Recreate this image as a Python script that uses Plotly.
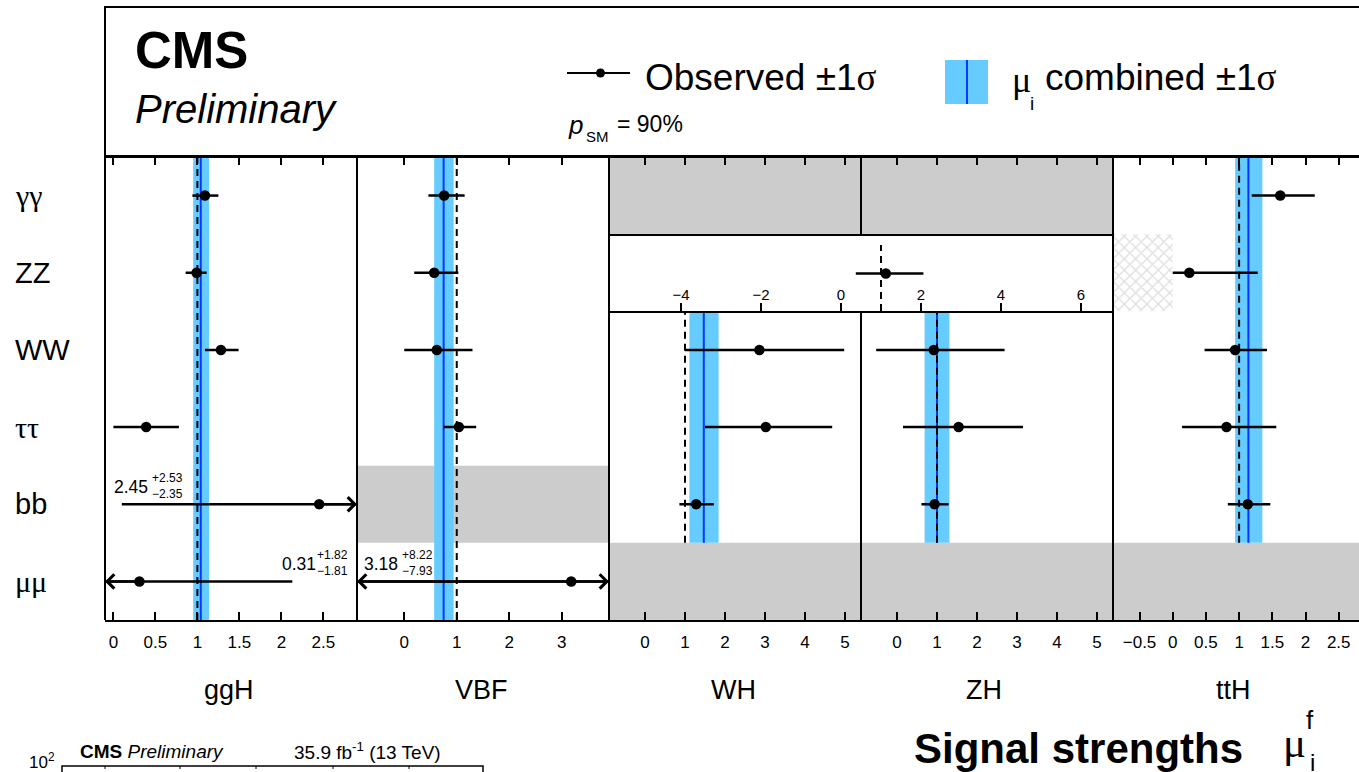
import plotly.graph_objects as go

W, H = 1359, 772


def PX(x):
    return x / W


def PY(y):
    return 1 - y / H


# ---------------- data ----------------
rows = ["γγ", "ZZ", "WW", "ττ", "bb", "μμ"]
row_pos = [5, 4, 3, 2, 1, 0]
modes = ["ggH", "VBF", "WH", "ZH", "ttH"]

# observed signal strengths (None = not measured)
ggH_mu = [1.09, 0.99, 1.28, 0.39, 2.45, 0.31]
ggH_up = [0.16, 0.12, 0.21, 0.39, 2.53, 1.82]
ggH_dn = [0.15, 0.13, 0.19, 0.39, 2.35, 1.81]

VBF_mu = [0.76, 0.57, 0.62, 1.04, None, 3.18]
VBF_up = [0.39, 0.46, 0.68, 0.33, None, 8.22]
VBF_dn = [0.30, 0.38, 0.62, 0.29, None, 7.93]

WH_mu = [None, None, 2.86, 3.02, 1.28, None]
WH_up = [None, None, 2.12, 1.66, 0.44, None]
WH_dn = [None, None, 1.86, 1.52, 0.42, None]

ZH_mu = [None, None, 0.92, 1.54, 0.94, None]
ZH_up = [None, None, 1.77, 1.61, 0.35, None]
ZH_dn = [None, None, 1.44, 1.39, 0.33, None]

ttH_mu = [1.62, 0.25, 0.94, 0.81, 1.13, None]
ttH_up = [0.52, 1.03, 0.48, 0.75, 0.34, None]
ttH_dn = [0.43, 0.25, 0.46, 0.67, 0.30, None]

# VH -> ZZ (shared WH+ZH cell)
VH_ZZ_mu = 1.12
VH_ZZ_up = 0.94
VH_ZZ_dn = 0.75

# ttH -> ZZ physical boundary (hatched below)
ttH_ZZ_bound = 0.0

# combined per-production-mode signal strengths
comb_mu = [1.04, 0.75, 1.47, 1.00, 1.14]
comb_up = [0.10, 0.19, 0.37, 0.31, 0.21]
comb_dn = [0.09, 0.18, 0.36, 0.31, 0.20]

SM = 1.0
p_SM = "90%"

# cells not measured (gray)
gray_cells = {"VBF": ["bb"], "WH": ["γγ", "μμ"], "ZH": ["γγ", "μμ"], "ttH": ["μμ"]}

# axis ticks
tickvals = {
    "ggH": [0, 0.5, 1, 1.5, 2, 2.5],
    "VBF": [0, 1, 2, 3],
    "WH": [0, 1, 2, 3, 4, 5],
    "ZH": [0, 1, 2, 3, 4, 5],
    "ttH": [-0.5, 0, 0.5, 1, 1.5, 2, 2.5],
}
inset_ticks = [-4, -2, 0, 2, 4, 6]

obs = {
    "ggH": (ggH_mu, ggH_up, ggH_dn),
    "VBF": (VBF_mu, VBF_up, VBF_dn),
    "WH": (WH_mu, WH_up, WH_dn),
    "ZH": (ZH_mu, ZH_up, ZH_dn),
    "ttH": (ttH_mu, ttH_up, ttH_dn),
}

# ---------------- layout geometry ----------------
ranges = {"ggH": [-0.1, 2.9], "VBF": [-0.9, 3.9], "WH": [-0.9, 5.4],
          "ZH": [-0.9, 5.4], "ttH": [-0.9, 2.806]}
panel_px = [(105, 357), (357, 609), (609, 861), (861, 1113), (1113, 1359)]
TOP, BOT = 157, 620
inset_px = (609, 1113, 236, 311)
inset_range = [-5.8, 6.8]
band_rows = {"ggH": (-0.5, 5.5), "VBF": (-0.5, 5.5), "WH": (0.5, 3.5),
             "ZH": (0.5, 3.5), "ttH": (0.5, 5.5)}

SANS = "Liberation Sans"
SERIF = "Liberation Serif"
BAND = "#66ccff"
BLUE = "#0038ff"
GRAY = "#cccccc"


def fmt(v):
    s = ("%g" % v)
    return s.replace("-", "\u2212")


fig = go.Figure()
layout = dict(width=W, height=H, margin=dict(l=0, r=0, t=0, b=0),
              paper_bgcolor="white", plot_bgcolor="rgba(0,0,0,0)",
              showlegend=False, font=dict(family=SANS, color="black"))
shapes = []
annotations = []

for i, m in enumerate(modes):
    n = i + 1
    xa = "xaxis" if n == 1 else "xaxis%d" % n
    ya = "yaxis" if n == 1 else "yaxis%d" % n
    xr = "x" if n == 1 else "x%d" % n
    yr = "y" if n == 1 else "y%d" % n
    a, b = panel_px[i]
    layout[xa] = dict(domain=[PX(a), PX(b)], range=ranges[m], anchor=yr,
                      showline=True, linewidth=2, linecolor="black", mirror="ticks",
                      ticks="inside", ticklen=8, tickwidth=2, tickcolor="black",
                      tickvals=tickvals[m], ticktext=[fmt(v) for v in tickvals[m]],
                      ticklabelstandoff=6,
                      tickfont=dict(family=SANS, size=17, color="black"),
                      showgrid=False, zeroline=False, fixedrange=True)
    layout[ya] = dict(domain=[PY(BOT), PY(TOP)], range=[-0.5, 5.5], anchor=xr,
                      showline=False, showticklabels=False, ticks="",
                      showgrid=False, zeroline=False, fixedrange=True)

    # combined band + central line + SM dashed line
    y0, y1 = band_rows[m]
    shapes.append(dict(type="rect", xref=xr, yref=yr, x0=comb_mu[i] - comb_dn[i],
                       x1=comb_mu[i] + comb_up[i], y0=y0, y1=y1, fillcolor=BAND,
                       line=dict(width=0), layer="below"))
    shapes.append(dict(type="line", xref=xr, yref=yr, x0=comb_mu[i], x1=comb_mu[i],
                       y0=y0, y1=y1, line=dict(color=BLUE, width=2), layer="below"))
    shapes.append(dict(type="line", xref=xr, yref=yr, x0=SM, x1=SM, y0=y0, y1=y1,
                       line=dict(color="black", width=2, dash="7px,5px"), layer="below"))
    # gray (not measured) cells
    for r in gray_cells.get(m, []):
        yp = row_pos[rows.index(r)]
        shapes.append(dict(type="rect", xref=xr + " domain", yref=yr, x0=0, x1=1,
                           y0=yp - 0.5, y1=yp + 0.5, fillcolor=GRAY,
                           line=dict(width=0), layer="below"))

    # observed points
    mu, up, dn = obs[m]
    xs, ys, eu, ed = [], [], [], []
    for k in range(len(rows)):
        if mu[k] is None:
            continue
        xs.append(mu[k]); ys.append(row_pos[k]); eu.append(up[k]); ed.append(dn[k])
        lo, hi = ranges[m]
        for edge, over in ((hi, mu[k] + up[k] > hi), (lo, mu[k] - dn[k] < lo)):
            if over:
                annotations.append(dict(x=edge, y=row_pos[k], ax=mu[k], ay=row_pos[k],
                                        xref=xr, yref=yr, axref=xr, ayref=yr, text="",
                                        showarrow=True, arrowhead=4, arrowsize=1.1,
                                        arrowwidth=2.5, arrowcolor="black", standoff=0))
    fig.add_trace(go.Scatter(x=xs, y=ys, xaxis=xr, yaxis=yr, mode="markers",
                             marker=dict(color="black", size=10.5),
                             error_x=dict(type="data", array=eu, arrayminus=ed,
                                          color="black", thickness=2.5, width=0)))

# hatched region for ttH -> ZZ (below physical boundary)
zz = row_pos[rows.index("ZZ")]
fig.add_trace(go.Bar(orientation="h", y=[zz], x=[ttH_ZZ_bound - ranges["ttH"][0]],
                     base=[ranges["ttH"][0]], width=[1], xaxis="x5", yaxis="y5",
                     marker=dict(color="white", line=dict(width=0),
                                 pattern=dict(shape="x", fgcolor="#bdbdbd", bgcolor="white",
                                              size=8, solidity=0.3))))

# inset VH -> ZZ axis
layout["xaxis6"] = dict(domain=[PX(inset_px[0]), PX(inset_px[1])], range=inset_range,
                        anchor="y6", showline=True, linewidth=2, linecolor="black",
                        mirror=True, ticks="inside", ticklen=8, tickwidth=2,
                        tickcolor="black", tickvals=inset_ticks,
                        ticktext=[fmt(v) for v in inset_ticks],
                        ticklabelposition="inside",
                        tickfont=dict(family=SANS, size=15, color="black"),
                        showgrid=False, zeroline=False, fixedrange=True)
layout["yaxis6"] = dict(domain=[PY(inset_px[3]), PY(inset_px[2])], range=[0, 1],
                        anchor="x6", showline=False, showticklabels=False,
                        showgrid=False, zeroline=False, fixedrange=True)
shapes.append(dict(type="line", xref="x6", yref="y6", x0=SM, x1=SM, y0=0, y1=0.88,
                   line=dict(color="black", width=2, dash="7px,5px"), layer="below"))
fig.add_trace(go.Scatter(x=[VH_ZZ_mu], y=[0.5], xaxis="x6", yaxis="y6", mode="markers",
                         marker=dict(color="black", size=10.5),
                         error_x=dict(type="data", array=[VH_ZZ_up], arrayminus=[VH_ZZ_dn],
                                      color="black", thickness=2.5, width=0)))

# panel frame lines
for xv in (105, 357, 609, 1113):
    shapes.append(dict(type="line", xref="paper", yref="paper", x0=PX(xv), x1=PX(xv),
                       y0=PY(TOP), y1=PY(BOT), line=dict(color="black", width=2)))
for (ya_, yb_) in ((TOP, inset_px[2]), (inset_px[3], BOT)):
    shapes.append(dict(type="line", xref="paper", yref="paper", x0=PX(861), x1=PX(861),
                       y0=PY(ya_), y1=PY(yb_), line=dict(color="black", width=2)))

# header box
shapes.append(dict(type="rect", xref="paper", yref="paper", x0=PX(105), x1=PX(1375),
                   y0=PY(157), y1=PY(7), line=dict(color="black", width=2)))

# header legend
shapes.append(dict(type="line", xref="paper", yref="paper", x0=PX(567), x1=PX(630),
                   y0=PY(73), y1=PY(73), line=dict(color="black", width=2)))
shapes.append(dict(type="circle", xref="paper", yref="paper", x0=PX(596), x1=PX(605),
                   y0=PY(77.5), y1=PY(68.5), fillcolor="black", line=dict(width=0)))
shapes.append(dict(type="rect", xref="paper", yref="paper", x0=PX(945), x1=PX(988),
                   y0=PY(104), y1=PY(60), fillcolor=BAND, line=dict(width=0)))
shapes.append(dict(type="line", xref="paper", yref="paper", x0=PX(967), x1=PX(967),
                   y0=PY(104), y1=PY(60), line=dict(color=BLUE, width=2)))


def txt(x, y, text, size, family=SANS, xanchor="left", yanchor="middle", **kw):
    annotations.append(dict(x=PX(x), y=PY(y), xref="paper", yref="paper", text=text,
                            showarrow=False, xanchor=xanchor, yanchor=yanchor,
                            font=dict(family=family, size=size, color="black"), **kw))


txt(133, 50, "<b>CMS</b>", 51)
txt(133, 109, "<i>Preliminary</i>", 40)
sig = '<span style="font-family:Liberation Serif">σ</span>'
txt(643, 77, "Observed ±1" + sig, 37)
txt(1010, 80, '<span style="font-family:Liberation Serif">μ</span>', 36)
txt(1028, 103, "i", 19)
txt(1043, 77, "combined ±1" + sig, 37)
txt(566, 125, "<i>p</i>", 26)
txt(584, 137, "SM", 15)
txt(615, 124, "= " + p_SM, 23)

# row labels
for k, r in enumerate(rows):
    greek = any(c in r for c in "γτμ")
    annotations.append(dict(x=PX(13), y=row_pos[k], xref="paper", yref="y", text=r,
                            showarrow=False, xanchor="left", yanchor="middle",
                            font=dict(family=SERIF if greek else SANS,
                                      size=30 if greek else 29, color="black")))

# production-mode labels
label_cx = [229, 481, 733, 984, 1233]
for i, m in enumerate(modes):
    txt(label_cx[i], 690, m, 27, xanchor="center")

# out-of-range value labels
def val_label(x, y, mu, up, dn, xs):
    txt(x, y, fmt(mu), 17.5)
    txt(xs, y - 1, "+%s<br>%s" % (fmt(up), fmt(-dn)), 12)

val_label(112, 487, ggH_mu[4], ggH_up[4], ggH_dn[4], 150)
val_label(280, 564, ggH_mu[5], ggH_up[5], ggH_dn[5], 315)
val_label(362, 564, VBF_mu[5], VBF_up[5], VBF_dn[5], 400)

# x title
txt(912, 748, "<b>Signal strengths</b>", 42)
txt(1281, 742, '<span style="font-family:Liberation Serif">μ</span>', 43)
txt(1304, 720, "f", 26)
txt(1308, 762, "i", 24)

# partial figure peeking in at bottom-left
txt(27, 761, "10<sup>2</sup>", 17)
txt(78, 751, "<b>CMS</b> <i>Preliminary</i>", 19)
txt(292, 751, "35.9 fb<sup>-1</sup> (13 TeV)", 19)
shapes.append(dict(type="rect", xref="paper", yref="paper", x0=PX(62), x1=PX(483),
                   y0=PY(790), y1=PY(766), line=dict(color="black", width=1.5)))
for xv in (105, 180, 256, 333, 409):
    shapes.append(dict(type="line", xref="paper", yref="paper", x0=PX(xv), x1=PX(xv),
                       y0=PY(766), y1=PY(780), line=dict(color="black", width=1, dash="dot")))

layout["shapes"] = shapes
layout["annotations"] = annotations
fig.update_layout(**layout)
fig.write_html("out.html")
